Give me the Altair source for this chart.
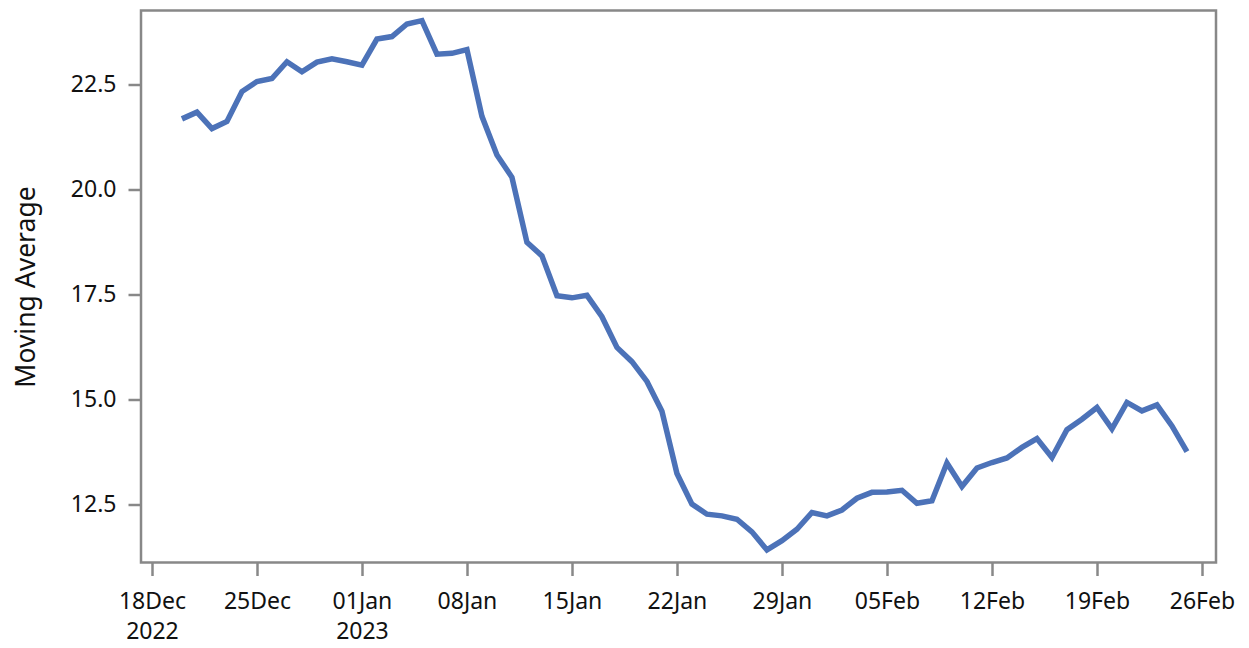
import altair as alt
import pandas as pd

# Daily dates (Dec 20 2022 .. Feb 25 2023)
dates = [d.strftime("%Y-%m-%dT00:00:00") for d in pd.date_range("2022-12-20", "2023-02-25", freq="D")]

dec_values = [21.67, 21.83, 21.44, 21.61, 22.32, 22.56, 22.63, 23.03, 22.79, 23.02, 23.10, 23.03]
jan_values = [22.95, 23.57, 23.63, 23.93, 24.01, 23.21, 23.23, 23.32, 21.73, 20.81,
              20.28, 18.73, 18.41, 17.46, 17.41, 17.47, 16.96, 16.23, 15.89, 15.42,
              14.71, 13.23, 12.50, 12.26, 12.22, 12.14, 11.84, 11.41, 11.63, 11.90, 12.30]
feb_values = [12.22, 12.36, 12.64, 12.78, 12.79, 12.83, 12.52, 12.58, 13.48, 12.92,
              13.36, 13.49, 13.60, 13.85, 14.06, 13.61, 14.27, 14.52, 14.80, 14.29,
              14.92, 14.72, 14.86, 14.36, 13.75]
values = dec_values + jan_values + feb_values

y_ticks = [12.5, 15.0, 17.5, 20.0, 22.5]
x_tick_dates = [(2022, 12, 18), (2022, 12, 25), (2023, 1, 1), (2023, 1, 8), (2023, 1, 15),
                (2023, 1, 22), (2023, 1, 29), (2023, 2, 5), (2023, 2, 12), (2023, 2, 19),
                (2023, 2, 26)]

df = pd.DataFrame({"date": dates, "value": values})

FONT = "Noto Sans"

label_expr = (
    "(datum.index == 0 || (month(datum.value) == 0 && date(datum.value) == 1)) ? "
    "[timeFormat(datum.value, '%d%b'), timeFormat(datum.value, '%Y')] : "
    "timeFormat(datum.value, '%d%b')"
)

chart = alt.Chart(df).mark_line(color="#4C72B8", strokeWidth=5.5, strokeJoin="miter").encode(
    x=alt.X(
        "date:T",
        scale=alt.Scale(
            domain=[alt.DateTime(year=2022, month=12, date=17, hours=6, minutes=30),
                    alt.DateTime(year=2023, month=2, date=26, hours=22, minutes=30)],
            nice=False,
        ),
        axis=alt.Axis(
            title=None,
            values=[alt.DateTime(year=y, month=m, date=d) for (y, m, d) in x_tick_dates],
            labelExpr=label_expr,
            labelFont=FONT,
            labelFontSize=23,
            labelColor="#111111",
            labelLineHeight=30,
            labelPadding=15,
            tickSize=13,
            tickWidth=2.5,
            tickColor="#888888",
            domain=False,
            grid=False,
            labelFlush=False,
            labelOverlap=False,
        ),
    ),
    y=alt.Y(
        "value:Q",
        scale=alt.Scale(domain=[11.11, 24.25], nice=False, zero=False),
        axis=alt.Axis(
            title="Moving Average",
            values=y_ticks,
            format=".1f",
            labelFont=FONT,
            labelFontSize=23,
            labelColor="#111111",
            labelPadding=12,
            tickSize=13,
            tickWidth=2.5,
            tickColor="#888888",
            domain=False,
            grid=False,
            titleFont=FONT,
            titleFontSize=26.5,
            titleFontWeight="normal",
            titleColor="#111111",
            titlePadding=30,
        ),
    ),
).properties(
    width=1075,
    height=552,
    autosize=alt.AutoSizeParams(type="none"),
    padding={"left": 133, "top": 2.5, "right": 20, "bottom": 85},
).configure_view(
    stroke="#888888",
    strokeWidth=2.5,
)

chart.save("out.html", embed_options={"renderer": "svg", "actions": False})
